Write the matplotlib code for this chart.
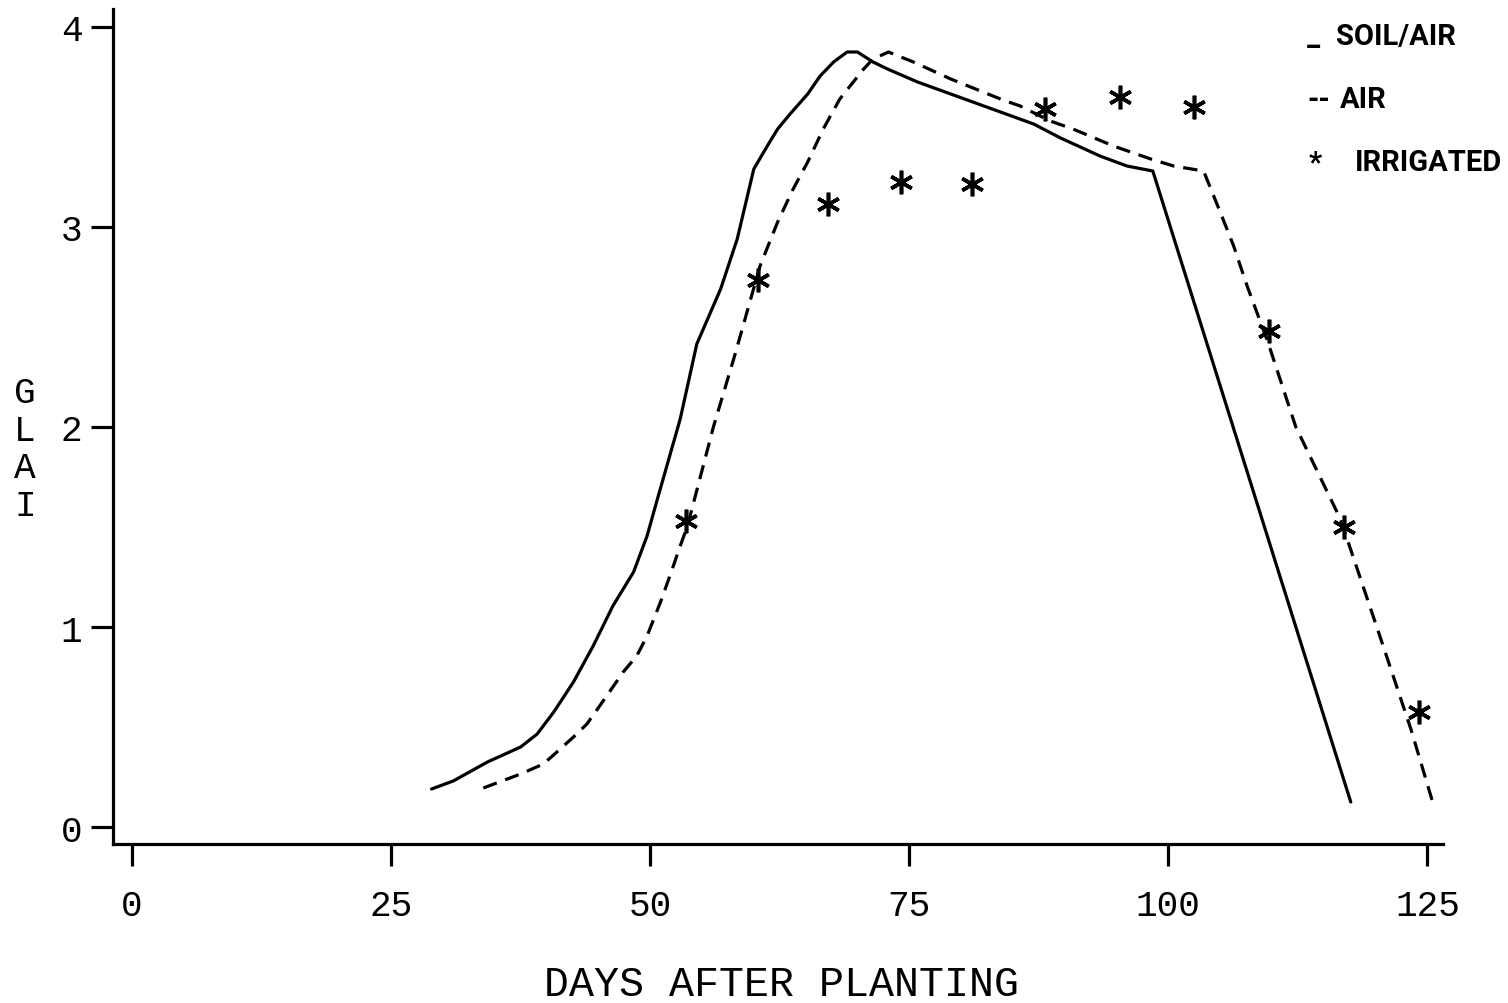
import matplotlib
matplotlib.use("Agg")
import matplotlib.pyplot as plt

# SOIL/AIR (solid)
soil_x = [28.9, 31.0, 34.3, 37.5, 39.1, 40.7, 42.6, 44.5, 46.4, 48.4, 49.7, 50.7,
          52.9, 54.5, 56.8, 58.4, 60.0, 61.3, 62.3, 63.5, 65.2, 66.4, 67.7, 69.0,
          70.0, 71.5, 72.9, 75.8, 83.8, 87.0, 89.6, 93.4, 96.0, 98.5, 117.6]
soil_y = [0.19, 0.23, 0.325, 0.40, 0.465, 0.575, 0.725, 0.905, 1.105, 1.275, 1.455, 1.64,
          2.04, 2.415, 2.69, 2.94, 3.29, 3.405, 3.49, 3.565, 3.665, 3.755, 3.825, 3.875,
          3.875, 3.825, 3.79, 3.725, 3.575, 3.515, 3.445, 3.355, 3.305, 3.28, 0.125]

# AIR (dashed)
air_x = [33.9, 37.5, 39.7, 41.0, 42.6, 43.9, 45.8, 47.4, 48.7, 49.7, 51.0, 51.9,
         52.9, 53.6, 56.1, 58.2, 60.6, 62.3, 63.8, 65.2, 66.7, 68.3, 69.6, 70.6,
         71.5, 73.0, 75.4, 79.0, 83.8, 85.7, 88.6, 90.8, 94.7, 98.3, 100.5, 103.4,
         105.0, 106.3, 107.6, 109.6, 112.3, 116.6, 120.5, 123.4, 125.5]
air_y = [0.195, 0.265, 0.315, 0.375, 0.45, 0.515, 0.655, 0.775, 0.855, 0.955, 1.125, 1.255,
         1.405, 1.505, 2.0, 2.365, 2.805, 3.025, 3.19, 3.325, 3.49, 3.64, 3.725, 3.79,
         3.84, 3.875, 3.825, 3.74, 3.64, 3.605, 3.53, 3.49, 3.405, 3.34, 3.305, 3.28,
         3.075, 2.905, 2.705, 2.425, 2.0, 1.54, 0.94, 0.49, 0.125]

# IRRIGATED (asterisks)
irr_x = [53.5, 60.4, 67.2, 74.2, 81.1, 88.1, 95.3, 102.5, 109.7, 116.9, 124.2]
irr_y = [1.53, 2.735, 3.115, 3.225, 3.215, 3.59, 3.65, 3.60, 2.48, 1.50, 0.575]

x_ticks = [0, 25, 50, 75, 100, 125]
y_ticks = [0, 1, 2, 3, 4]

legend_symbols = ["_", "--", "*"]
legend_labels = ["SOIL/AIR", "AIR", "IRRIGATED"]

fig = plt.figure(figsize=(15.08, 10.04), dpi=100)
ax = fig.add_axes([113/1508, 1 - 845/1004, (1443-113)/1508, (845-10)/1004])

ax.plot(soil_x, soil_y, color="black", lw=2.3, solid_capstyle="round")
ax.plot(air_x, air_y, color="black", lw=2.3, dashes=(4.5, 2.8))
ax.plot(irr_x, irr_y, linestyle="none", marker=(6, 2, 0), markersize=17,
        markeredgewidth=2.6, color="black")

ax.set_xlim(-1.83, 126.5)
ax.set_ylim(-0.085, 4.09)

for s in ["top", "right"]:
    ax.spines[s].set_visible(False)
for s in ["left", "bottom"]:
    ax.spines[s].set_linewidth(2.3)

mono = ["Liberation Mono", "DejaVu Sans Mono"]
tick_font = dict(family=mono, size=26)
ax.set_xticks(x_ticks)
ax.set_xticklabels([str(t) for t in x_ticks], **tick_font)
ax.set_yticks(y_ticks)
ax.set_yticklabels([str(t) for t in y_ticks], **tick_font)
ax.tick_params(axis="x", direction="out", length=16, width=2.3, pad=16)
ax.tick_params(axis="y", direction="out", length=16, width=2.3, pad=6)

fig.text(781/1508, 1 - 985/1004, "DAYS AFTER PLANTING", ha="center", va="center",
         family=mono, size=30)
fig.text(25/1508, 1 - 450/1004, "G\nL\nA\nI", ha="center", va="center",
         family=mono, size=26, linespacing=1.1)

leg_y = [37, 100, 163]
sym_x = [1307, 1307, 1309]
lab_x = [1336, 1340, 1355]
for sym, lab, yy, sx, lx in zip(legend_symbols, legend_labels, leg_y, sym_x, lab_x):
    fig.text(sx/1508, 1 - yy/1004, sym, ha="left", va="center",
             family=["Roboto", "DejaVu Sans"], weight="bold", size=21)
    fig.text(lx/1508, 1 - yy/1004, lab, ha="left", va="center",
             family=["Roboto", "DejaVu Sans"], weight="bold", size=21)

fig.savefig("out.png", dpi=100)
